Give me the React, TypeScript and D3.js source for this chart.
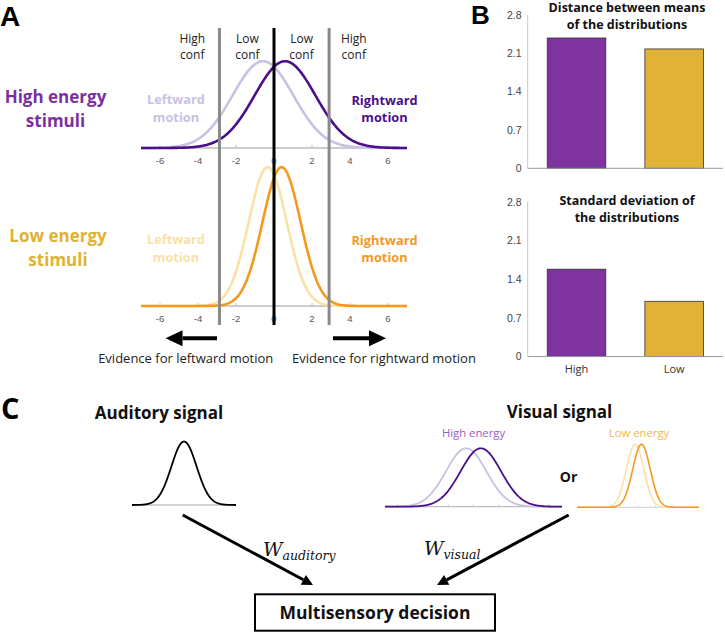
import React from 'react';
import * as d3 from 'd3';

// evidence axis + confidence criteria (panel A)
const axisTicks = [-6, -4, -2, 0, 2, 4, 6];
const criteria = [-2.87, 2.9];
const confLabels = [
  { x: -4.3, lines: ['High', 'conf'] },
  { x: -1.4, lines: ['Low', 'conf'] },
  { x: 1.45, lines: ['Low', 'conf'] },
  { x: 4.2, lines: ['High', 'conf'] },
];

// distributions (leftward, rightward)
const highMeans = [-0.58, 0.58];
const highSd = 1.6;
const lowMeans = [-0.33, 0.4];
const lowSd = 1.0;
const auditoryMean = 0;
const auditorySd = 1.7;

// panel B
const barCategories = ['High', 'Low'];
const meanDistance = [2.38, 2.18];
const sdValues = [1.58, 1.0];
const barTicks = [0, 0.7, 1.4, 2.1, 2.8];

const PURPLE_DARK = '#4b0f8c';
const PURPLE_LIGHT = '#c9c1e3';
const ORANGE_DARK = '#f39a1e';
const ORANGE_LIGHT = '#f9e1a7';
const BAR_COLORS = ['#7e33a0', '#e2b236'];

const FONT = "'Open Sans', sans-serif";
const TICK_FONT = "'Liberation Sans', Arial, sans-serif";
const MATH_FONT = "'DejaVu Serif', serif";

const gauss = (x: number, m: number, s: number) =>
  Math.exp(-((x - m) ** 2) / (2 * s * s)) / (s * Math.sqrt(2 * Math.PI));

const grid = d3.range(-7, 7.0001, 0.05);

function curvePath(x: d3.ScaleLinear<number, number>, y: d3.ScaleLinear<number, number>, m: number, s: number) {
  return d3.line<number>()
    .x(v => x(v))
    .y(v => y(gauss(v, m, s)))(grid) || '';
}

// one evidence axis with two distributions
function DistRow({ x, y, means, sd, light, dark, tickLen = 3, labels = true, baseColor = '#bdbdbd', width = 2.6 }: any) {
  const base = y(0);
  return (
    <g>
      <line x1={x(-7)} x2={x(7)} y1={base} y2={base} stroke={baseColor} strokeWidth={1.3} />
      {axisTicks.map(t => (
        <line key={t} x1={x(t)} x2={x(t)} y1={base} y2={base - tickLen} stroke={baseColor} strokeWidth={1} />
      ))}
      {labels && axisTicks.map(t => (
        <text key={'l' + t} x={x(t)} y={base + 16} textAnchor="middle" fontFamily={TICK_FONT} fontSize={9.5} fill="#555">
          {t}
        </text>
      ))}
      <path d={curvePath(x, y, means[0], sd)} fill="none" stroke={light} strokeWidth={width} />
      <path d={curvePath(x, y, means[1], sd)} fill="none" stroke={dark} strokeWidth={width} />
    </g>
  );
}

function TwoLine({ x, y, lines, size, weight = 'bold', fill, gap }: any) {
  return (
    <text x={x} y={y} textAnchor="middle" fontFamily={FONT} fontSize={size} fontWeight={weight} fill={fill}>
      {lines.map((l: string, i: number) => (
        <tspan key={i} x={x} dy={i === 0 ? 0 : gap}>{l}</tspan>
      ))}
    </text>
  );
}

function Arrow({ x1, y1, x2, y2, width, head, half }: any) {
  const a = Math.atan2(y2 - y1, x2 - x1);
  const bx = x2 - head * Math.cos(a);
  const by = y2 - head * Math.sin(a);
  const px = -Math.sin(a) * half;
  const py = Math.cos(a) * half;
  return (
    <g>
      <line x1={x1} y1={y1} x2={bx} y2={by} stroke="#000" strokeWidth={width} />
      <polygon points={`${x2},${y2} ${bx + px},${by + py} ${bx - px},${by - py}`} fill="#000" />
    </g>
  );
}

function BarPanel({ top, bottom, values, title, showCats }: any) {
  const x = d3.scaleBand<string>().domain(barCategories).range([527.7, 723]).paddingInner(0.4).paddingOuter(0.2);
  const y = d3.scaleLinear().domain([0, 2.8]).range([bottom, top]);
  return (
    <g>
      {values.map((v: number, i: number) => (
        <rect key={i} x={x(barCategories[i])} y={y(v)} width={x.bandwidth()} height={y(0) - y(v)}
          fill={BAR_COLORS[i]} stroke="#333" strokeWidth={0.8} />
      ))}
      <line x1={527.7} x2={527.7} y1={y(2.8)} y2={y(0)} stroke="#c8c8c8" strokeWidth={1} />
      <line x1={527.7} x2={723} y1={y(0)} y2={y(0)} stroke="#9a9a9a" strokeWidth={1} />
      {barTicks.map(t => (
        <text key={t} x={521.5} y={y(t) + 3.8} textAnchor="end" fontFamily={TICK_FONT} fontSize={10.5} fill="#444">
          {t}
        </text>
      ))}
      {showCats && barCategories.map(c => (
        <text key={c} x={(x(c) as number) + x.bandwidth() / 2} y={bottom + 16} textAnchor="middle"
          fontFamily={FONT} fontSize={11} fill="#333">
          {c}
        </text>
      ))}
      <TwoLine x={627} y={title.y} lines={title.lines} size={12.5} fill="#111" gap={16.5} />
    </g>
  );
}

export default function App() {
  // panel A scales
  const xA = d3.scaleLinear().domain([-7, 7]).range([141, 407]);
  const yTop = d3.scaleLinear().domain([0, 0.4]).range([148, 148 - 139.2]);
  const yBot = d3.scaleLinear().domain([0, 0.4]).range([306, 306 - 139.2]);

  // panel C mini plots
  const xAud = d3.scaleLinear().domain([-7, 7]).range([132, 236]);
  const yAud = d3.scaleLinear().domain([0, gauss(0, 0, auditorySd)]).range([505, 441.5]);
  const xHi = d3.scaleLinear().domain([-7, 7]).range([385, 562]);
  const yHi = d3.scaleLinear().domain([0, gauss(0, 0, highSd)]).range([506.7, 448.3]);
  const xLo = d3.scaleLinear().domain([-7, 7]).range([577, 699]);
  const yLo = d3.scaleLinear().domain([0, gauss(0, 0, lowSd)]).range([507.3, 444.3]);

  return (
    <svg width={725} height={633} viewBox="0 0 725 633"
      style={{ position: 'absolute', left: 0, top: 0, background: '#fff' }}>
      <rect width={725} height={633} fill="#fff" />

      {/* ---------- A ---------- */}
      <text x={0} y={26} fontFamily={TICK_FONT} fontWeight="bold" fontSize={28}>A</text>

      {confLabels.map((c, i) => (
        <TwoLine key={i} x={xA(c.x)} y={43} lines={c.lines} size={12} weight="normal" fill="#222" gap={16} />
      ))}

      <TwoLine x={55.5} y={103} lines={['High energy', 'stimuli']} size={17} fill="#7b2fa0" gap={24} />
      <TwoLine x={176} y={104} lines={['Leftward', 'motion']} size={12.8} fill={PURPLE_LIGHT} gap={17.5} />
      <TwoLine x={384.5} y={104.5} lines={['Rightward', 'motion']} size={12.8} fill={PURPLE_DARK} gap={17.5} />

      <TwoLine x={58} y={242} lines={['Low energy', 'stimuli']} size={17} fill="#e0b232" gap={24} />
      <TwoLine x={176} y={244} lines={['Leftward', 'motion']} size={12.8} fill={ORANGE_LIGHT} gap={17.5} />
      <TwoLine x={384.5} y={244.5} lines={['Rightward', 'motion']} size={12.8} fill={ORANGE_DARK} gap={17.5} />

      <DistRow x={xA} y={yTop} means={highMeans} sd={highSd} light={PURPLE_LIGHT} dark={PURPLE_DARK} />
      <DistRow x={xA} y={yBot} means={lowMeans} sd={lowSd} light={ORANGE_LIGHT} dark={ORANGE_DARK} />

      {criteria.map(c => (
        <line key={c} x1={xA(c)} x2={xA(c)} y1={28} y2={325} stroke="#8a8a8a" strokeWidth={3} />
      ))}
      <line x1={xA(0)} x2={xA(0)} y1={28} y2={325} stroke="#000" strokeWidth={3} />

      <Arrow x1={217} y1={338.3} x2={165.5} y2={338.3} width={4} head={17} half={8} />
      <Arrow x1={333} y1={338.3} x2={386} y2={338.3} width={4} head={17} half={8} />
      <text x={185.7} y={363} textAnchor="middle" fontFamily={FONT} fontSize={13} fill="#222">
        Evidence for leftward motion
      </text>
      <text x={384} y={363} textAnchor="middle" fontFamily={FONT} fontSize={13} fill="#222">
        Evidence for rightward motion
      </text>

      {/* ---------- B ---------- */}
      <text x={471} y={24} fontFamily={TICK_FONT} fontWeight="bold" fontSize={26}>B</text>
      <BarPanel top={15} bottom={168.3} values={meanDistance}
        title={{ y: 12, lines: ['Distance between means', 'of the distributions'] }} />
      <BarPanel top={201.7} bottom={356.6} values={sdValues} showCats
        title={{ y: 205, lines: ['Standard deviation of', 'the distributions'] }} />

      {/* ---------- C ---------- */}
      <text x={1} y={419} fontFamily={FONT} fontWeight="bold" fontSize={29}>C</text>

      <text x={159} y={419} textAnchor="middle" fontFamily={FONT} fontWeight="bold" fontSize={17} fill="#111">
        Auditory signal
      </text>
      <text x={559.5} y={418} textAnchor="middle" fontFamily={FONT} fontWeight="bold" fontSize={17} fill="#111">
        Visual signal
      </text>
      <text x={473.5} y={437} textAnchor="middle" fontFamily={FONT} fontSize={11.3} fill="#9a5cc3">High energy</text>
      <text x={639} y={437} textAnchor="middle" fontFamily={FONT} fontSize={11.3} fill="#f2b94a">Low energy</text>
      <text x={568.5} y={482} textAnchor="middle" fontFamily={FONT} fontWeight="bold" fontSize={14} fill="#111">Or</text>

      <g>
        <line x1={xAud(-7)} x2={xAud(7)} y1={yAud(0)} y2={yAud(0)} stroke="#c4c4c4" strokeWidth={1.3} />
        <path d={curvePath(xAud, yAud, auditoryMean, auditorySd)} fill="none" stroke="#000" strokeWidth={1.8} />
      </g>
      <DistRow x={xHi} y={yHi} means={highMeans} sd={highSd} light={PURPLE_LIGHT} dark={PURPLE_DARK}
        labels={false} tickLen={2} width={1.8} baseColor="#c0c0c0" />
      <DistRow x={xLo} y={yLo} means={lowMeans} sd={lowSd} light={ORANGE_LIGHT} dark={ORANGE_DARK}
        labels={false} tickLen={2} width={1.6} baseColor="#d8d8d8" />

      <Arrow x1={182.7} y1={515} x2={313} y2={585} width={3} head={11} half={5.5} />
      <Arrow x1={568.7} y1={515} x2={437} y2={585} width={3} head={11} half={5.5} />

      <text x={263} y={556} fontFamily={MATH_FONT} fontStyle="italic" fontSize={19} fill="#111">
        W<tspan fontSize={12.5} dy={4}>auditory</tspan>
      </text>
      <text x={424} y={555} fontFamily={MATH_FONT} fontStyle="italic" fontSize={19} fill="#111">
        W<tspan fontSize={12.5} dy={4}>visual</tspan>
      </text>

      <rect x={255} y={594.3} width={240} height={36.4} fill="none" stroke="#000" strokeWidth={2} />
      <text x={375} y={619} textAnchor="middle" fontFamily={FONT} fontWeight="bold" fontSize={17.5} fill="#111">
        Multisensory decision
      </text>
    </svg>
  );
}
